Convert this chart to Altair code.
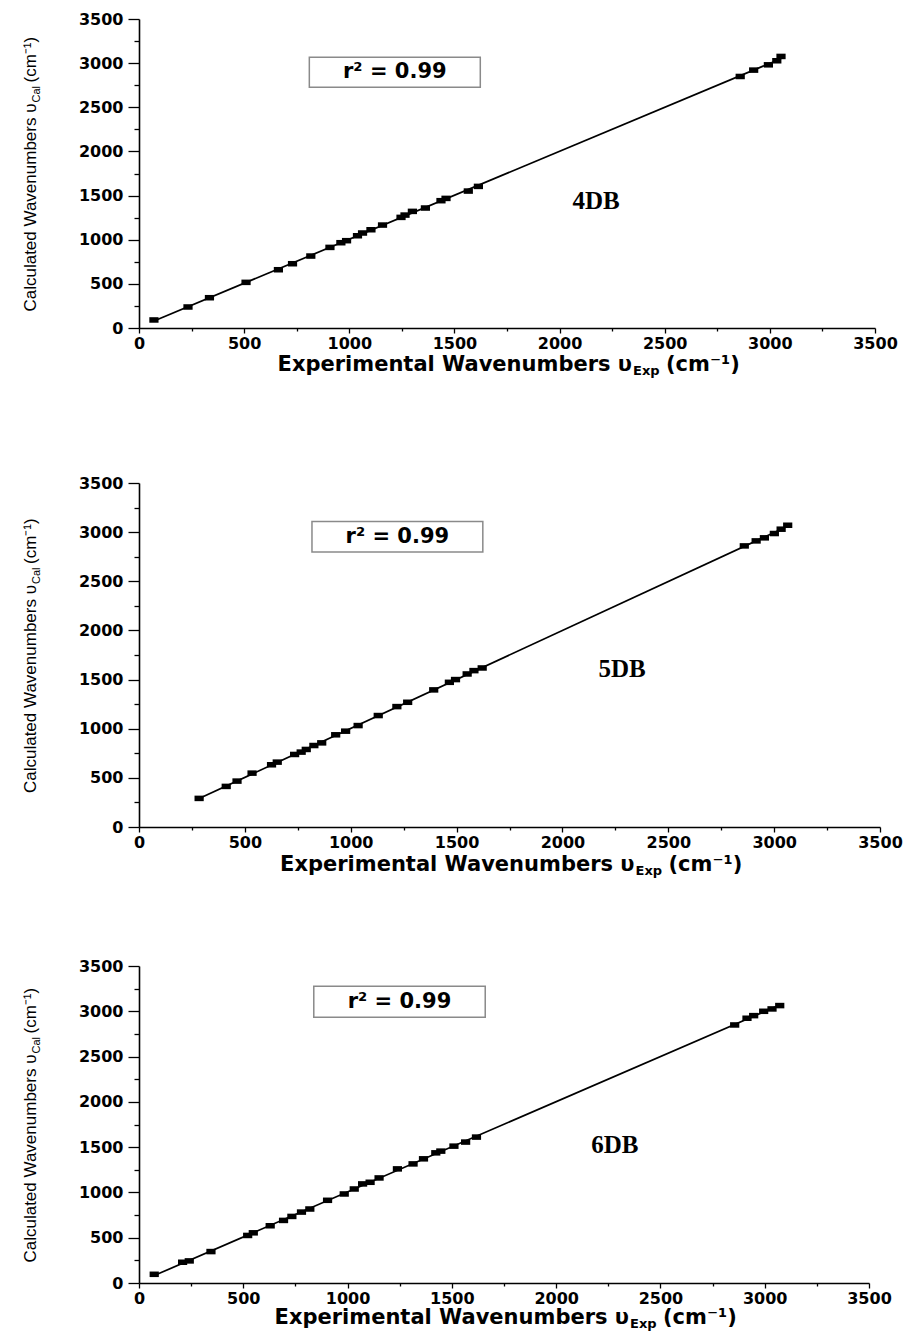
import altair as alt
import pandas as pd

# ---------------- data ----------------
exp_4db = [71, 233, 335, 509, 663, 730, 817, 908, 960, 987, 1039, 1063, 1103, 1158,
           1246, 1265, 1300, 1362, 1436, 1460, 1566, 1614, 2859, 2923, 2993, 3033, 3053]
cal_4db = [91, 238, 343, 517, 660, 728, 815, 913, 966, 989, 1045, 1076, 1113, 1166,
           1253, 1279, 1321, 1359, 1442, 1468, 1551, 1604, 2849, 2921, 2981, 3027, 3076]

exp_5db = [284, 412, 463, 534, 626, 653, 735, 766, 790, 826, 863, 929, 976, 1035, 1130,
           1218, 1269, 1392, 1466, 1495, 1550, 1582, 1621, 2859, 2915, 2954, 3001, 3033, 3064]
cal_5db = [291, 413, 467, 548, 633, 660, 738, 762, 789, 829, 856, 938, 975, 1032, 1134,
           1225, 1269, 1395, 1472, 1500, 1557, 1591, 1618, 2860, 2911, 2942, 2986, 3030, 3070]

exp_6db = [73, 209, 241, 345, 521, 548, 629, 693, 733, 779, 819, 904, 984, 1032, 1072,
           1108, 1151, 1239, 1314, 1364, 1423, 1447, 1510, 1566, 1618, 2856, 2915, 2947,
           2995, 3035, 3072]
cal_6db = [96, 229, 244, 347, 525, 554, 632, 691, 735, 783, 817, 913, 983, 1038, 1094,
           1112, 1160, 1260, 1315, 1371, 1437, 1456, 1511, 1556, 1611, 2849, 2923, 2952,
           3000, 3026, 3063]

labels = ["4DB", "5DB", "6DB"]
label_x = [2174, 2282, 2281]
label_y = [1442, 1610, 1523]
r2_text = "r² = 0.99"
box_x1 = [810, 817, 838]
box_x2 = [1623, 1624, 1660]
box_y1 = [2726, 2797, 2934]
box_y2 = [3068, 3108, 3276]

tick_values = list(range(0, 3501, 250))

X_MAIN = "Experimental Wavenumbers υ"
X_SUB = "Exp"
X_UNIT = "(cm⁻¹)"
Y_MAIN = "Calculated Wavenumbers υ"
Y_SUB = "Cal"
Y_UNIT = "(cm⁻¹)"

widths = [736, 741, 730]
heights = [309, 344, 317]
xtitle_base = [43, 44, 41]

LABEL_FONT = "DejaVu Sans"
MARKER = "M-1,-0.6L1,-0.6L1,0.6L-1,0.6Z"


def make_axis(major, minor, pad):
    return alt.Axis(
        values=tick_values,
        format="d",
        labelExpr="datum.value % 500 === 0 ? datum.label : ''",
        tickSize={"condition": {"test": "datum.value % 500 !== 0", "value": minor}, "value": major},
        tickColor="black",
        tickWidth=1.3,
        domainColor="black",
        domainWidth=1.6,
        labelFont=LABEL_FONT,
        labelFontWeight="bold",
        labelFontSize=16,
        labelColor="black",
        labelPadding=pad,
        labelOverlap=False,
        labelFlush=False,
        grid=False,
        title=None,
    )


x_axis = make_axis(5, 3, 2)
y_axis = make_axis(11, 5, 5)
scale = alt.Scale(domain=[0, 3500], nice=False, zero=False)


def one(df):
    return alt.Chart(pd.DataFrame(df))


def panel(i, exp, cal, spacer_top=None):
    w, h = widths[i], heights[i]
    df = pd.DataFrame({"exp": exp, "cal": cal})
    X = alt.X("exp:Q", scale=scale, axis=x_axis)
    Y = alt.Y("cal:Q", scale=scale, axis=y_axis)

    line = alt.Chart(df).transform_regression("exp", "cal").mark_line(
        color="black", strokeWidth=1.7).encode(x=X, y=Y)
    pts = alt.Chart(df).mark_point(shape=MARKER, filled=True, color="black",
                                   opacity=1, size=85).encode(x=X, y=Y)

    bdf = {"x1": [box_x1[i]], "x2": [box_x2[i]], "y1": [box_y1[i]], "y2": [box_y2[i]],
           "xc": [(box_x1[i] + box_x2[i]) / 2], "yc": [(box_y1[i] + box_y2[i]) / 2],
           "t": [r2_text]}
    box = one(bdf).mark_rect(fill="white", stroke="#8a8a8a", strokeWidth=1.5).encode(
        x=alt.X("x1:Q", scale=scale, axis=x_axis), x2="x2:Q",
        y=alt.Y("y1:Q", scale=scale, axis=y_axis), y2="y2:Q")
    r2 = one(bdf).mark_text(font=LABEL_FONT, fontWeight="bold", fontSize=21,
                            color="black", baseline="middle").encode(
        x=alt.X("xc:Q", scale=scale, axis=x_axis),
        y=alt.Y("yc:Q", scale=scale, axis=y_axis), text="t:N")

    lab = one({"lx": [label_x[i]], "ly": [label_y[i]], "t": [labels[i]]}).mark_text(
        font="Liberation Serif", fontWeight="bold", fontSize=25, color="black",
        baseline="middle").encode(
        x=alt.X("lx:Q", scale=scale, axis=x_axis),
        y=alt.Y("ly:Q", scale=scale, axis=y_axis), text="t:N")

    # x title pieces (main text, subscript, unit)
    xb = h + xtitle_base[i]
    X1 = w / 2 + 125
    xt_main = one({"t": [X_MAIN]}).mark_text(
        font=LABEL_FONT, fontWeight="bold", fontSize=21, align="right",
        baseline="alphabetic", color="black").encode(
        text="t:N", x=alt.value(X1), y=alt.value(xb))
    xt_sub = one({"t": [X_SUB]}).mark_text(
        font=LABEL_FONT, fontWeight="bold", fontSize=13, align="left",
        baseline="alphabetic", color="black").encode(
        text="t:N", x=alt.value(X1 + 1), y=alt.value(xb + 4))
    xt_unit = one({"t": [X_UNIT]}).mark_text(
        font=LABEL_FONT, fontWeight="bold", fontSize=21, align="left",
        baseline="alphabetic", color="black").encode(
        text="t:N", x=alt.value(X1 + 34), y=alt.value(xb))

    # y title pieces (rotated)
    Y1 = h / 2 - 70
    yb = -103
    yt_main = one({"t": [Y_MAIN]}).mark_text(
        font="Liberation Sans", fontSize=17, align="right", angle=270,
        baseline="alphabetic", color="black").encode(
        text="t:N", x=alt.value(yb), y=alt.value(Y1))
    yt_sub = one({"t": [Y_SUB]}).mark_text(
        font="Liberation Sans", fontSize=11, align="left", angle=270,
        baseline="alphabetic", color="black").encode(
        text="t:N", x=alt.value(yb + 4), y=alt.value(Y1 - 1))
    yt_unit = one({"t": [Y_UNIT]}).mark_text(
        font="Liberation Sans", fontSize=17, align="left", angle=270,
        baseline="alphabetic", color="black").encode(
        text="t:N", x=alt.value(yb), y=alt.value(Y1 - 21))

    layers = [line, pts, box, r2, lab, xt_main, xt_sub, xt_unit, yt_main, yt_sub, yt_unit]
    if spacer_top is not None:
        sp = one({"t": ["."]}).mark_text(opacity=0, fontSize=10, baseline="top").encode(
            text="t:N", x=alt.value(0), y=alt.value(spacer_top))
        layers.append(sp)
    return alt.layer(*layers).properties(width=w, height=h)


p1 = panel(0, exp_4db, cal_4db)
p2 = panel(1, exp_5db, cal_5db, spacer_top=-25)
p3 = panel(2, exp_6db, cal_6db)

chart = alt.vconcat(p1, p2, p3, spacing=80).properties(
    padding={"left": 22, "top": 11, "right": 0, "bottom": 0},
    background="white",
).configure_view(stroke=None)

chart.save("out.html", embed_options={"renderer": "svg", "actions": False})
